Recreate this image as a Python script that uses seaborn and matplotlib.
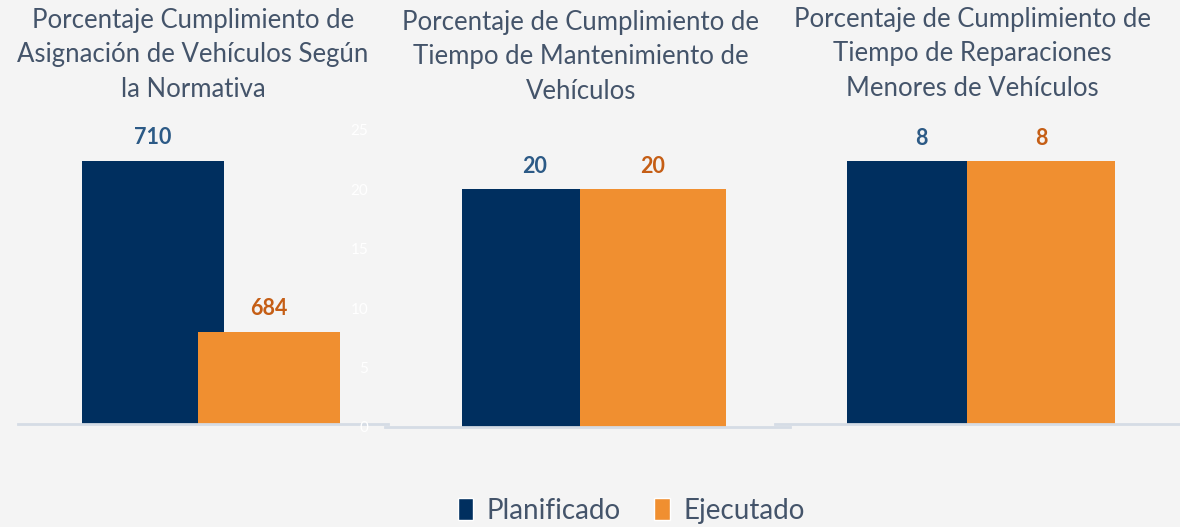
import pandas as pd
import matplotlib.pyplot as plt
import seaborn as sns
from matplotlib.patches import Patch

titles = [
    "Porcentaje Cumplimiento de\nAsignación de Vehículos Según\nla Normativa",
    "Porcentaje de Cumplimiento de\nTiempo de Mantenimiento de\nVehículos",
    "Porcentaje de Cumplimiento de\nTiempo de Reparaciones\nMenores de Vehículos",
]
series = ["Planificado", "Ejecutado"]
planificado = [710, 20, 8]
ejecutado = [684, 20, 8]

blue = "#002F5F"
orange = "#F08F30"
label_cols = ["#2C5A86", "#C55E15"]
text_col = "#44546A"

rows = []
for i, t in enumerate(titles):
    rows.append({"panel": i, "serie": series[0], "value": planificado[i]})
    rows.append({"panel": i, "serie": series[1], "value": ejecutado[i]})
df = pd.DataFrame(rows)

sns.set_style("white")
plt.rcParams["font.family"] = ["Lato", "DejaVu Sans"]

fig = plt.figure(figsize=(11.8, 5.27), dpi=100)
fig.patch.set_facecolor("#F4F4F4")
W, H = 1180, 527

# axes boxes in pixels: left, right, top, baseline
boxes = [(18, 388, 130, 424), (385, 790, 130, 427), (775, 1180, 130, 424)]
xlims = [(-1.164, 2.022), (-1.271, 2.161), (-1.217, 2.158)]
ylims = [(670, 714.7), (0, 25), (0, 8.943)]
widths = [1.22, 1.237, 1.233]
title_x = [193, 581, 972]
title_top = [8, 10, 7]

for i in range(3):
    l, r, t, b = boxes[i]
    ax = fig.add_axes([l / W, (H - b) / H, (r - l) / W, (b - t) / H])
    ax.set_facecolor("none")
    sub = df[df["panel"] == i]
    sns.barplot(data=sub, x="serie", y="value", hue="serie", order=series,
                hue_order=series, palette=[blue, orange], dodge=False,
                width=widths[i], legend=False, ax=ax, edgecolor="none",
                saturation=1)
    ax.set_xlim(xlims[i])
    ax.set_ylim(ylims[i])
    for c, col in zip(ax.containers, label_cols):
        ax.bar_label(c, padding=9, color=col, fontsize=15.5, fontweight="bold")
    ax.set_xlabel("")
    ax.set_ylabel("")
    ax.set_xticks([])
    for s in ["top", "right", "left"]:
        ax.spines[s].set_visible(False)
    ax.spines["bottom"].set_color("#D5DCE5")
    ax.spines["bottom"].set_linewidth(2)
    if i == 1:
        ax.set_yticks([0, 5, 10, 15, 20, 25])
        ax.tick_params(axis="y", length=0, pad=12, labelcolor="white", labelsize=11)
    else:
        ax.set_yticks([])
    fig.text(title_x[i] / W, 1 - title_top[i] / H, titles[i], ha="center", va="top",
             fontsize=18.5, color=text_col, linespacing=1.47)

handles = [Patch(facecolor=blue, label=series[0]), Patch(facecolor=orange, label=series[1])]
fig.legend(handles=handles, loc="center", bbox_to_anchor=(0.535, 1 - 511 / H), ncol=2,
           frameon=False, fontsize=20, labelcolor=text_col, handlelength=0.55,
           handleheight=0.85, handletextpad=0.5, columnspacing=1.2)

fig.savefig("out.png", dpi=100, facecolor=fig.get_facecolor())
